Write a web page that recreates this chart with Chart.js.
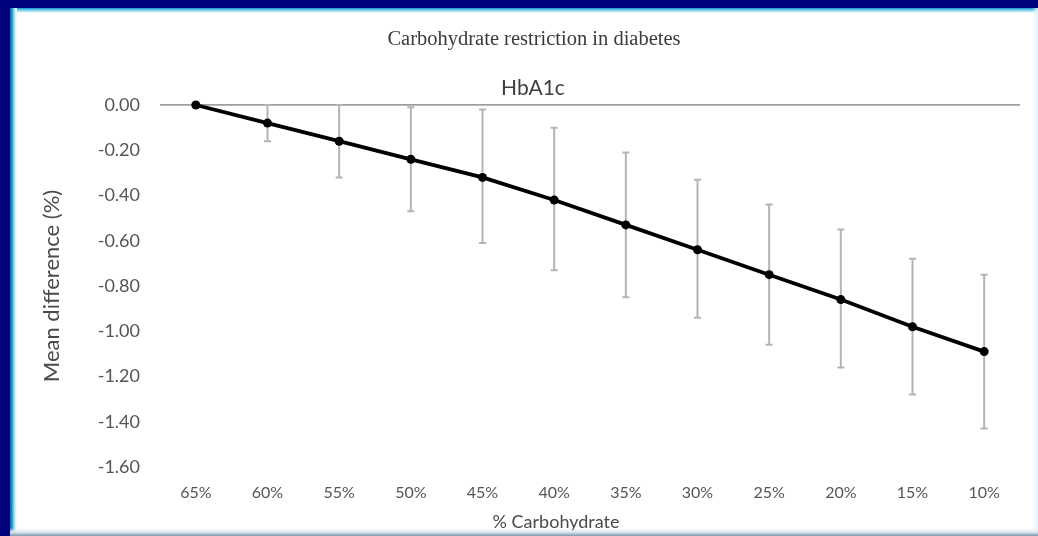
<!DOCTYPE html>
<html>
<head>
<meta charset="utf-8">
<script src="https://cdn.jsdelivr.net/npm/chart.js@4.4.1/dist/chart.umd.min.js"></script>
<style>
  html, body { margin: 0; padding: 0; width: 1038px; height: 536px; overflow: hidden; background: #fff; }
  .edge { position: absolute; }
  #topBar { left: 0; top: 0; width: 1038px; height: 8px; background: #00007c; }
  #topGlow { left: 10px; top: 8px; width: 1028px; height: 5px; background: linear-gradient(to bottom, #1592cf, #8ad8f0, #ffffff); }
  #leftBar { left: 0; top: 0; width: 10px; height: 536px; background: #00007c; }
  #leftGlow { left: 10px; top: 8px; width: 7px; height: 528px; background: linear-gradient(to right, #14579f, #2aa7da, #b7ebf8, #ffffff); }
  #bottomGlow { left: 10px; bottom: 0; width: 1028px; height: 8px; background: linear-gradient(to bottom, rgba(255,255,255,0), #dfe9ef, #7d98ad); }
  #rightGlow { right: 0; top: 8px; width: 6px; height: 528px; background: linear-gradient(to right, rgba(255,255,255,0), #e3f6fb); }
  #wrap { position: absolute; left: 0; top: 0; width: 1038px; height: 536px; }
</style>
</head>
<body>
<div class="edge" id="topBar"></div>
<div class="edge" id="leftBar"></div>
<div class="edge" id="topGlow"></div>
<div class="edge" id="leftGlow"></div>
<div class="edge" id="rightGlow"></div>
<div id="wrap"><canvas id="chart"></canvas></div>
<div class="edge" id="bottomGlow"></div>
<script>
// Carbohydrate share of energy intake (x categories)
const categories = ['65%', '60%', '55%', '50%', '45%', '40%', '35%', '30%', '25%', '20%', '15%', '10%'];
// Mean difference in HbA1c (%) relative to 65% carbohydrate
const meanDiff = [0.00, -0.08, -0.16, -0.24, -0.32, -0.42, -0.53, -0.64, -0.75, -0.86, -0.98, -1.09];
// Upper and lower limits of the error bars
const ciUpper = [0.00, 0.00, 0.00, -0.01, -0.02, -0.10, -0.21, -0.33, -0.44, -0.55, -0.68, -0.75];
const ciLower = [0.00, -0.16, -0.32, -0.47, -0.61, -0.73, -0.85, -0.94, -1.06, -1.16, -1.28, -1.43];
// Value axis range and step
const yMin = -1.6;
const yMax = 0;
const yStep = 0.2;

const textColor = '#555555';

// Vertical error bars with short caps, drawn underneath the line
const errorBars = {
  id: 'errorBars',
  beforeDatasetsDraw(chart) {
    const { ctx, scales: { x, y } } = chart;
    ctx.save();
    ctx.strokeStyle = '#b4b4b4';
    ctx.lineWidth = 2;
    categories.forEach((c, i) => {
      if (ciUpper[i] === ciLower[i]) return;
      const px = x.getPixelForValue(i);
      const yt = y.getPixelForValue(ciUpper[i]);
      const yb = y.getPixelForValue(ciLower[i]);
      ctx.beginPath();
      ctx.moveTo(px, yt); ctx.lineTo(px, yb);
      ctx.moveTo(px - 3.5, yt); ctx.lineTo(px + 3.5, yt);
      ctx.moveTo(px - 3.5, yb); ctx.lineTo(px + 3.5, yb);
      ctx.stroke();
    });
    ctx.restore();
  }
};

// Headings and axis titles
const headings = {
  id: 'headings',
  afterDraw(chart) {
    const { ctx, chartArea } = chart;
    ctx.save();
    ctx.textAlign = 'center';
    ctx.textBaseline = 'middle';
    ctx.fillStyle = '#3a3a3a';
    ctx.font = '20.5px "Liberation Serif", serif';
    ctx.fillText('Carbohydrate restriction in diabetes', 534, 40);
    ctx.fillStyle = '#404040';
    ctx.font = '21px Lato, sans-serif';
    ctx.fillText('HbA1c', 533, 88);
    ctx.fillStyle = '#4a4a4a';
    ctx.font = '18px Lato, sans-serif';
    ctx.fillText('% Carbohydrate', 556, 522);
    ctx.font = '22px Lato, sans-serif';
    ctx.translate(52, (chartArea.top + chartArea.bottom) / 2);
    ctx.rotate(-Math.PI / 2);
    ctx.fillText('Mean difference (%)', 0, 0);
    ctx.restore();
  }
};

new Chart(document.getElementById('chart'), {
  type: 'line',
  data: {
    labels: categories,
    datasets: [{
      data: meanDiff,
      borderColor: '#000',
      backgroundColor: '#000',
      borderWidth: 3.8,
      pointRadius: 4.5,
      pointBackgroundColor: '#000',
      pointBorderWidth: 0,
      tension: 0,
      clip: false
    }]
  },
  options: {
    responsive: true,
    maintainAspectRatio: false,
    animation: false,
    layout: { padding: { left: 12, right: 18, top: 105, bottom: 0 } },
    plugins: { legend: { display: false }, tooltip: { enabled: false } },
    scales: {
      x: {
        offset: true,
        grid: { display: false },
        border: { display: false },
        ticks: { color: textColor, font: { family: 'Lato', size: 16 }, padding: 8, maxRotation: 0 },
        afterFit(s) { s.height = 69; }
      },
      y: {
        min: yMin,
        max: yMax,
        grid: {
          drawTicks: false,
          color: (c) => (c.tick && c.tick.value === 0 ? '#9f9f9f' : 'rgba(0,0,0,0)'),
          lineWidth: 1.8
        },
        border: { display: false },
        ticks: {
          stepSize: yStep,
          color: textColor,
          font: { family: 'Lato', size: 18 },
          padding: 20,
          callback: (v) => Number(v).toFixed(2)
        },
        afterFit(s) { s.width = 148; }
      }
    }
  },
  plugins: [errorBars, headings]
});
</script>
</body>
</html>
